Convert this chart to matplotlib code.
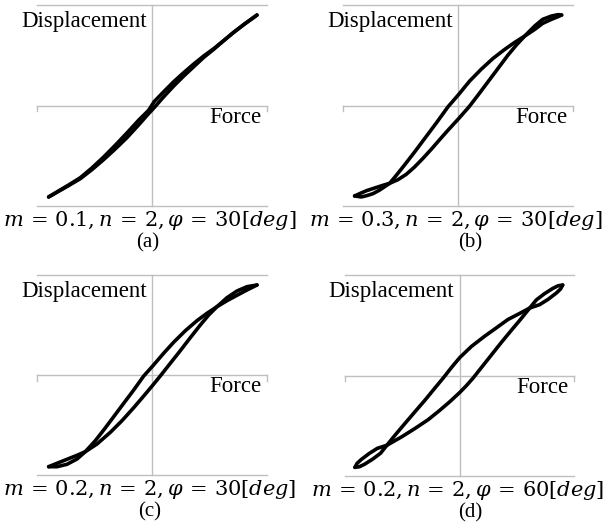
import matplotlib
matplotlib.use("Agg")
import matplotlib.pyplot as plt

plt.rcParams['mathtext.fontset'] = 'dejavuserif'

# loops, normalised to the plot box (-1..1)
# "r" = branch that is on the right in the middle, "l" = the left one
a_r_x = [-0.899, -0.812, -0.725, -0.623, -0.522, -0.420, -0.319, -0.217, -0.116, -0.029, 0.020,
         0.101, 0.188, 0.275, 0.362, 0.449, 0.536, 0.623, 0.710, 0.812, 0.913]
a_r_y = [-0.910, -0.854, -0.797, -0.728, -0.638, -0.538, -0.432, -0.319, -0.193, -0.080, -0.020,
         0.086, 0.193, 0.292, 0.385, 0.478, 0.558, 0.645, 0.728, 0.817, 0.900]
a_l_x = a_r_x
a_l_y = [-0.910, -0.850, -0.791, -0.718, -0.621, -0.512, -0.395, -0.272, -0.146, -0.047, 0.040,
         0.136, 0.236, 0.326, 0.412, 0.492, 0.565, 0.645, 0.728, 0.817, 0.900]

b_r_x = [-0.899, -0.841, -0.794, -0.725, -0.652, -0.594, -0.522, -0.449, -0.377, -0.304, -0.232,
         -0.159, -0.087, 0.006, 0.096, 0.174, 0.261, 0.348, 0.435, 0.507, 0.580, 0.667, 0.736,
         0.812, 0.870, 0.901]
b_r_y = [-0.900, -0.870, -0.847, -0.821, -0.794, -0.774, -0.738, -0.684, -0.611, -0.525, -0.435,
         -0.339, -0.246, -0.130, -0.013, 0.103, 0.236, 0.369, 0.502, 0.601, 0.691, 0.791, 0.857,
         0.890, 0.904, 0.900]
b_l_x = [-0.899, -0.841, -0.794, -0.739, -0.681, -0.594, -0.536, -0.464, -0.377, -0.290, -0.188,
         -0.087, 0.006, 0.101, 0.203, 0.304, 0.406, 0.493, 0.580, 0.667, 0.736, 0.812, 0.870, 0.901]
b_l_y = [-0.900, -0.910, -0.897, -0.877, -0.841, -0.774, -0.694, -0.591, -0.462, -0.329, -0.173,
         -0.013, 0.110, 0.243, 0.362, 0.468, 0.558, 0.628, 0.691, 0.757, 0.817, 0.857, 0.884, 0.900]

c_r_x = [-0.899, -0.826, -0.739, -0.652, -0.580, -0.478, -0.362, -0.261, -0.159, -0.072, 0.006,
         0.072, 0.159, 0.246, 0.333, 0.420, 0.493, 0.565, 0.652, 0.739, 0.826, 0.913]
c_r_y = [-0.917, -0.883, -0.843, -0.803, -0.767, -0.690, -0.573, -0.457, -0.327, -0.210, -0.103,
         -0.010, 0.117, 0.243, 0.373, 0.500, 0.600, 0.683, 0.773, 0.840, 0.883, 0.900]
c_l_x = [-0.899, -0.826, -0.739, -0.652, -0.580, -0.493, -0.420, -0.333, -0.246, -0.159, -0.072,
         0.006, 0.101, 0.188, 0.290, 0.391, 0.478, 0.565, 0.652, 0.739, 0.826, 0.913]
c_l_y = [-0.917, -0.917, -0.893, -0.840, -0.767, -0.657, -0.550, -0.417, -0.283, -0.150, -0.010,
         0.090, 0.217, 0.327, 0.443, 0.543, 0.617, 0.683, 0.743, 0.797, 0.850, 0.900]

d_r_x = [-0.913, -0.895, -0.857, -0.790, -0.718, -0.634, -0.506, -0.390, -0.273, -0.172, -0.084,
         0.003, 0.061, 0.119, 0.192, 0.279, 0.366, 0.453, 0.535, 0.613, 0.671, 0.741, 0.815,
         0.862, 0.901]
d_r_y = [-0.914, -0.875, -0.835, -0.777, -0.725, -0.694, -0.611, -0.528, -0.439, -0.346, -0.260,
         -0.168, -0.100, -0.025, 0.080, 0.205, 0.330, 0.450, 0.561, 0.671, 0.752, 0.813, 0.867,
         0.893, 0.900]
d_l_x = [-0.913, -0.875, -0.829, -0.757, -0.689, -0.634, -0.564, -0.477, -0.390, -0.302, -0.215,
         -0.135, -0.070, 0.003, 0.105, 0.221, 0.323, 0.424, 0.526, 0.613, 0.700, 0.774, 0.844,
         0.882, 0.901]
d_l_y = [-0.914, -0.908, -0.883, -0.831, -0.773, -0.694, -0.595, -0.478, -0.362, -0.246, -0.125,
         -0.015, 0.080, 0.179, 0.290, 0.392, 0.475, 0.558, 0.618, 0.671, 0.705, 0.758, 0.819,
         0.860, 0.900]

captions = [r"$m\,=\,0.1, n\,=\,2, \varphi\,=\,30[deg]$",
            r"$m\,=\,0.3, n\,=\,2, \varphi\,=\,30[deg]$",
            r"$m\,=\,0.2, n\,=\,2, \varphi\,=\,30[deg]$",
            r"$m\,=\,0.2, n\,=\,2, \varphi\,=\,60[deg]$"]
letters = ["(a)", "(b)", "(c)", "(d)"]

loops = [(a_r_x, a_r_y, a_l_x, a_l_y),
         (b_r_x, b_r_y, b_l_x, b_l_y),
         (c_r_x, c_r_y, c_l_x, c_l_y),
         (d_r_x, d_r_y, d_l_x, d_l_y)]

W, H = 610, 527
# plot boxes in pixels: left, right, top, bottom
boxes = [(37, 267, 5, 206), (343, 573, 5, 206),
         (37, 267, 275, 475), (345, 574, 275, 476)]
letter_x = [148, 470, 150, 470]

fig = plt.figure(figsize=(W / 100, H / 100), dpi=100)
grey = "#bfbfbf"

for i in range(4):
    l, r, t, b = boxes[i]
    ax = fig.add_axes([l / W, 1 - b / H, (r - l) / W, (b - t) / H])
    ax.set_xlim(-1, 1)
    ax.set_ylim(-1, 1)
    ax.axis("off")

    # excel style grid: top, bottom, axis through zero, vertical axis
    for yy in (-1, 1, 0):
        ax.plot([-1, 1], [yy, yy], color=grey, lw=1.0, clip_on=False, zorder=1)
    ax.plot([0, 0], [-1, 1], color=grey, lw=1.0, clip_on=False, zorder=1)
    ax.plot([-1, -1], [0, -0.055], color=grey, lw=1.0, clip_on=False, zorder=1)
    ax.plot([1, 1], [0, -0.055], color=grey, lw=1.0, clip_on=False, zorder=1)

    rx, ry, lx, ly = loops[i]
    ax.plot(rx, ry, color="black", lw=2.6, solid_capstyle="round",
            solid_joinstyle="round", zorder=3)
    ax.plot(lx, ly, color="black", lw=2.6, solid_capstyle="round",
            solid_joinstyle="round", zorder=3)

    ax.text(-0.045, 0.78, "Displacement", ha="right", va="baseline",
            family="Liberation Serif", fontsize=16.5)
    ax.text(0.955, -0.175, "Force", ha="right", va="baseline",
            family="Liberation Serif", fontsize=16.5)

    cx = (l + r) / 2
    fig.text((cx - 2) / W, 1 - (b + 20) / H, captions[i], ha="center",
             va="baseline", fontsize=15)
    fig.text(letter_x[i] / W, 1 - (b + 41) / H, letters[i], ha="center",
             va="baseline", family="Liberation Serif", fontsize=15)

fig.savefig("out.png", dpi=100)
